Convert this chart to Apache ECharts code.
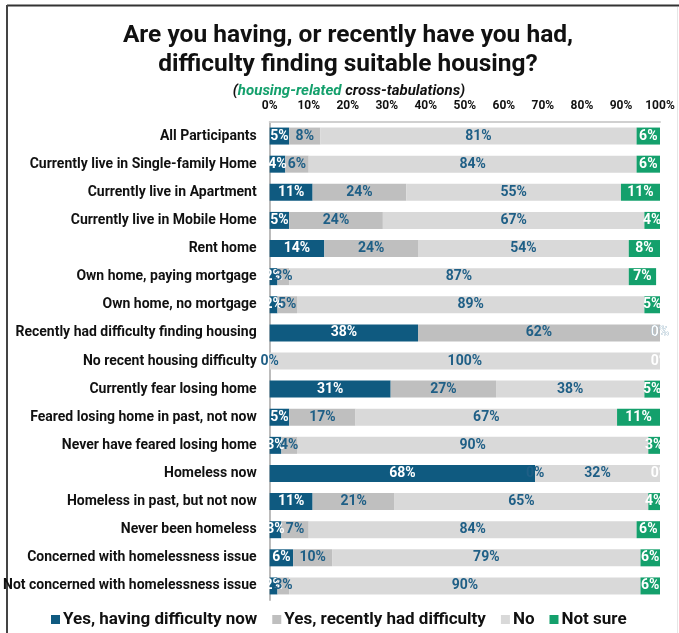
<!DOCTYPE html>
<html>
<head>
<meta charset="utf-8">
<script src="https://cdn.jsdelivr.net/npm/echarts@6/dist/echarts.min.js"></script>
<style>
html,body{margin:0;padding:0;background:#fff;}
#c{width:679px;height:633px;}
</style>
</head>
<body>
<div id="c"></div>
<script>
const categories = [
  "All Participants",
  "Currently live in Single-family Home",
  "Currently live in Apartment",
  "Currently live in Mobile Home",
  "Rent home",
  "Own home, paying mortgage",
  "Own home, no mortgage",
  "Recently had difficulty finding housing",
  "No recent housing difficulty",
  "Currently fear losing home",
  "Feared losing home in past, not now",
  "Never have feared losing home",
  "Homeless now",
  "Homeless in past, but not now",
  "Never been homeless",
  "Concerned with homelessness issue",
  "Not concerned with homelessness issue"
];
const seriesNames = ["Yes, having difficulty now", "Yes, recently had difficulty", "No", "Not sure"];
const yesNow      = [5, 4, 11, 5, 14, 2, 2, 38, 0, 31, 5, 3, 68, 11, 3, 6, 2];
const yesRecently = [8, 6, 24, 24, 24, 3, 5, 62, 0, 27, 17, 4, 0, 21, 7, 10, 3];
const noValues    = [81, 84, 55, 67, 54, 87, 89, 0, 100, 38, 67, 90, 32, 65, 84, 79, 90];
const notSure     = [6, 6, 11, 4, 8, 7, 5, 0, 0, 5, 11, 3, 0, 4, 6, 6, 6];
const tickValues  = [0, 10, 20, 30, 40, 50, 60, 70, 80, 90, 100];

const FONT = "'Roboto', sans-serif";
const colors = ['#0f5a80', '#bfbfbf', '#d9d9d9', '#14a06c'];
const labelColors = ['#ffffff', '#1f5f86', '#1f5f86', '#ffffff'];
const valueSets = [yesNow, yesRecently, noValues, notSure];

const chart = echarts.init(document.getElementById('c'), null, {renderer: 'canvas'});
const series = valueSets.map((vals, i) => ({
  name: seriesNames[i],
  type: 'bar',
  stack: 'total',
  barWidth: 17,
  data: vals,
  itemStyle: {color: colors[i]},
  label: {
    show: true,
    position: 'inside',
    formatter: '{c}%',
    color: labelColors[i],
    fontFamily: FONT,
    fontWeight: 'bold',
    fontSize: 14
  },
  emphasis: {disabled: true}
}));

chart.setOption({
  animation: false,
  textStyle: {fontFamily: FONT},
  title: [{
    text: 'Are you having, or recently have you had,\ndifficulty finding suitable housing?',
    left: 343, top: 16, textAlign: 'center',
    textStyle: {fontFamily: FONT, fontWeight: 'bold', fontSize: 24.5, lineHeight: 29, color: '#111'}
  }, {
    text: '{k|(}{g|housing-related }{k|cross-tabulations)}',
    left: 344, top: 79, textAlign: 'center',
    textStyle: {
      rich: {
        g: {color: '#14a06c', fontFamily: FONT, fontWeight: 'bold', fontStyle: 'italic', fontSize: 15},
        k: {color: '#111', fontFamily: FONT, fontWeight: 'bold', fontStyle: 'italic', fontSize: 15}
      }
    }
  }],
  legend: {
    left: 46, top: 606,
    itemWidth: 9, itemHeight: 9, itemGap: 15,
    icon: 'rect',
    textStyle: {fontFamily: FONT, fontWeight: 'bold', fontSize: 17, color: '#111', padding: [0, 0, 0, -2]},
    data: seriesNames
  },
  grid: {left: 269, right: 19, top: 122, bottom: 33, containLabel: false},
  xAxis: {
    type: 'value', position: 'top', min: 0, max: 100, interval: 10,
    axisLine: {show: true, lineStyle: {color: '#d0d0d0', width: 2}},
    axisTick: {show: false},
    splitLine: {show: false},
    axisLabel: {formatter: '{value}%', color: '#111', fontFamily: FONT, fontWeight: 'bold', fontSize: 12, margin: 10}
  },
  yAxis: {
    type: 'category', inverse: true, data: categories,
    axisLine: {show: true, lineStyle: {color: '#bcbcbc', width: 2}},
    axisTick: {show: false},
    axisLabel: {color: '#111', fontFamily: FONT, fontWeight: 'bold', fontSize: 14, margin: 13}
  },
  series: series,
  graphic: [
    {type: 'line', shape: {x1: 7, y1: 5.5, x2: 679, y2: 5.5}, style: {stroke: '#333', lineWidth: 2}, silent: true},
    {type: 'line', shape: {x1: 7, y1: 5, x2: 7, y2: 633}, style: {stroke: '#444', lineWidth: 2}, silent: true},
    {type: 'line', shape: {x1: 677.5, y1: 7, x2: 677.5, y2: 633}, style: {stroke: '#e6e6e6', lineWidth: 1}, silent: true}
  ]
});
</script>
</body>
</html>
